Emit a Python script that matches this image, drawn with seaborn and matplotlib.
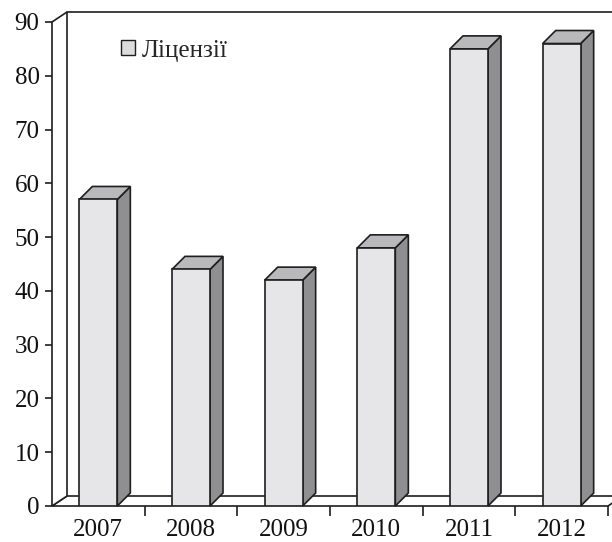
import numpy as np
import pandas as pd
import matplotlib
matplotlib.use("Agg")
import matplotlib.pyplot as plt
from matplotlib.patches import Polygon, Patch
import seaborn as sns

years = ["2007", "2008", "2009", "2010", "2011", "2012"]
licenses = [57, 44, 42, 48, 85, 86]
series_label = "Ліцензії"
y_ticks = [0, 10, 20, 30, 40, 50, 60, 70, 80, 90]

FRONT = "#e6e6e8"
SIDE = "#8f8f91"
TOP = "#b9b9bb"
EDGE = "#1e1e1e"

sns.set_theme(style="white")
plt.rcParams["font.family"] = ["Liberation Serif", "DejaVu Serif"]

W, H, DPI = 612, 542, 100
fig = plt.figure(figsize=(W / DPI, H / DPI), dpi=DPI)
ax_left, ax_right, ax_bottom, ax_top = 52, 608, 506, 22
ax = fig.add_axes([ax_left / W, 1 - ax_bottom / H, (ax_right - ax_left) / W, (ax_bottom - ax_top) / H])

df = pd.DataFrame({"year": years, "value": licenses})
sns.barplot(data=df, x="year", y="value", order=years, color=FRONT, saturation=1,
            width=0.41, edgecolor=EDGE, linewidth=1.2, ax=ax, zorder=5)

ax.set_xlim(-0.5, len(years) - 0.5)
ax.set_ylim(0, 90)

# pixel -> data conversions
px_x = (len(years)) / (ax_right - ax_left)
px_y = 90 / (ax_bottom - ax_top)

# back wall / floor depth
wdx, wdy = 15 * px_x, 10 * px_y
# bar depth
bdx, bdy = 13 * px_x, 13 * px_y

x0, x1 = -0.5, len(years) - 0.5
# floor
floor = Polygon([(x0, 0), (x1, 0), (x1 + wdx, wdy), (x0 + wdx, wdy)], closed=True,
                facecolor="white", edgecolor=EDGE, linewidth=1.2, clip_on=False, zorder=1)
ax.add_patch(floor)
# left wall
lwall = Polygon([(x0, 0), (x0, 90), (x0 + wdx, 90 + wdy), (x0 + wdx, wdy)], closed=True,
                facecolor="white", edgecolor=EDGE, linewidth=1.2, clip_on=False, zorder=1)
ax.add_patch(lwall)
# top edge of back wall
ax.plot([x0 + wdx, x1 + 3 * wdx], [90 + wdy, 90 + wdy], color=EDGE, lw=1.2,
        clip_on=False, zorder=1)

# 3D faces of bars
for p in ax.patches:
    if p in (floor, lwall):
        continue
    xa = p.get_x()
    w = p.get_width()
    h = p.get_height()
    if h <= 0:
        continue
    xb = xa + w
    side = Polygon([(xb, 0), (xb + bdx, bdy), (xb + bdx, h + bdy), (xb, h)], closed=True,
                   facecolor=SIDE, edgecolor=EDGE, linewidth=1.2, clip_on=False, zorder=4)
    top = Polygon([(xa, h), (xb, h), (xb + bdx, h + bdy), (xa + bdx, h + bdy)], closed=True,
                  facecolor=TOP, edgecolor=EDGE, linewidth=1.2, clip_on=False, zorder=4)
    ax.add_patch(side)
    ax.add_patch(top)

for s in ["top", "right", "left", "bottom"]:
    ax.spines[s].set_visible(False)

ax.set_yticks(y_ticks)
ax.set_yticklabels([str(v) for v in y_ticks])
ax.tick_params(axis="y", direction="out", length=5, width=1.2, color=EDGE,
               left=True, pad=4, labelsize=18, labelcolor="#111111")
ax.set_xticks(range(len(years)))
ax.set_xticklabels(years)
ax.set_xticks(np.arange(0.5, len(years), 1.0), minor=True)
ax.tick_params(axis="x", which="major", length=0, pad=9, labelsize=18, labelcolor="#111111")
ax.tick_params(axis="x", which="minor", direction="out", length=7, width=1.2,
               color=EDGE, bottom=True)
ax.set_xlabel("")
ax.set_ylabel("")
ax.grid(False)

handle = Patch(facecolor="#dcdcde", edgecolor=EDGE, linewidth=1.0, label=series_label)
leg = ax.legend(handles=[handle], loc="upper left", bbox_to_anchor=(0.083, 1.01),
                frameon=False, handlelength=0.56, handleheight=0.56, handletextpad=0.3,
                prop={"family": ["Liberation Serif", "DejaVu Serif"], "size": 18})

fig.savefig("out.png", dpi=DPI)
